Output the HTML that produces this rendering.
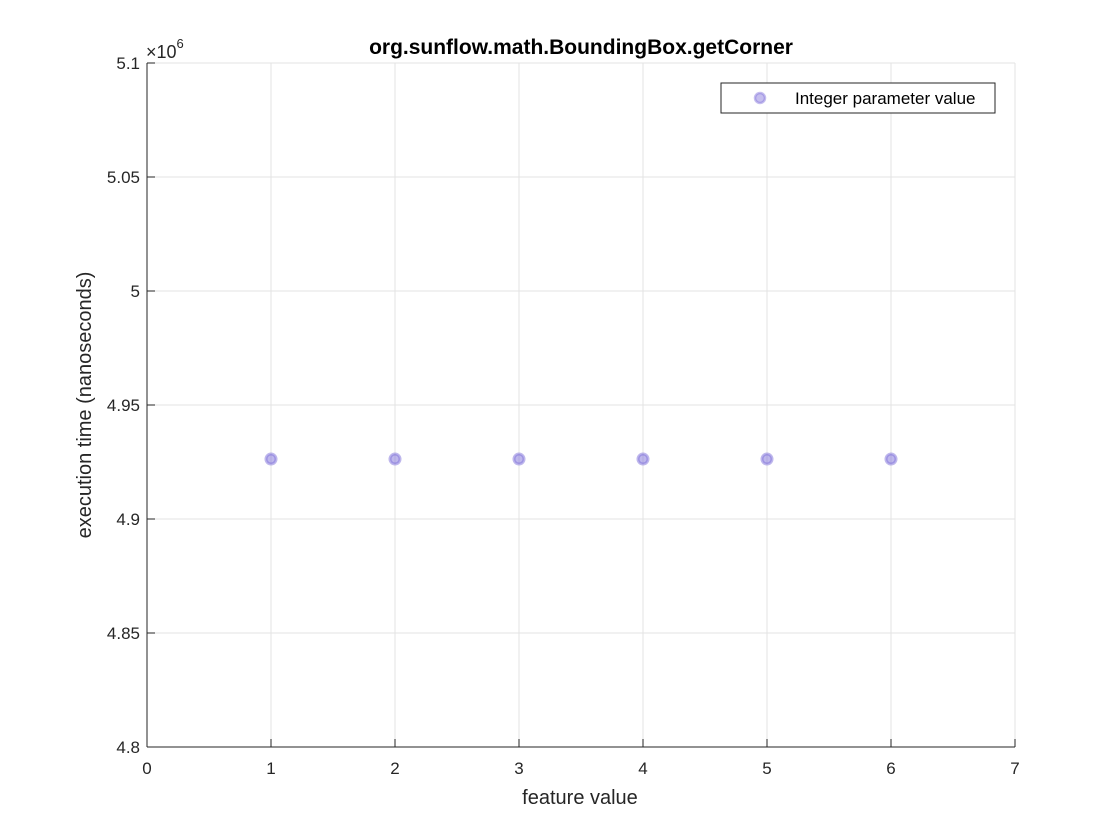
<!DOCTYPE html>
<html><head><meta charset="utf-8"><style>
body{margin:0;background:#fff;}
svg{display:block;font-family:"Liberation Sans",Arial,sans-serif;}
</style></head><body>
<svg id="chart" width="1120" height="840">
<rect x="0" y="0" width="1120" height="840" fill="#fff"/>
<rect x="147" y="63" width="868" height="684" fill="#fff"/>
<g id="grid"></g><g id="axes"></g><g id="points"></g>
<text x="581" y="54" text-anchor="middle" font-size="21" font-weight="bold" fill="#000">org.sunflow.math.BoundingBox.getCorner</text>
<text x="580" y="804" text-anchor="middle" font-size="20" fill="#262626">feature value</text>
<text transform="translate(91,405) rotate(-90)" text-anchor="middle" font-size="20" fill="#262626">execution time (nanoseconds)</text>
<text x="146" y="58" font-size="18" fill="#262626">×10<tspan dy="-10" font-size="13">6</tspan></text>
<g>
<rect x="721" y="83" width="274" height="30" fill="#fff" stroke="#262626" stroke-width="1"/>
<circle cx="760" cy="98" r="5" fill="#7e6fd9" fill-opacity="0.45" stroke="#7e6fd9" stroke-opacity="0.45" stroke-width="2.5"/>
<text x="795" y="104" font-size="17" fill="#000">Integer parameter value</text>
</g>
</svg>
<script>
const xTicks=[0,1,2,3,4,5,6,7];
const yTicks=[4.8,4.85,4.9,4.95,5,5.05,5.1];
const yTickLabels=["4.8","4.85","4.9","4.95","5","5.05","5.1"];
const featureValues=[1,2,3,4,5,6];
const execTimes=[4.9263,4.9263,4.9263,4.9263,4.9263,4.9263];
const X0=147,X1=1015,Y0=747,Y1=63;
const xs=v=>X0+(v-0)/(7-0)*(X1-X0);
const ys=v=>Y0-(v-4.8)/(5.1-4.8)*(Y0-Y1);
const NS="http://www.w3.org/2000/svg";
function mk(t,a,p){const e=document.createElementNS(NS,t);for(const k in a)e.setAttribute(k,a[k]);p.appendChild(e);return e;}
const grid=document.getElementById('grid'),axes=document.getElementById('axes'),pts=document.getElementById('points');
xTicks.forEach(v=>{
 const g=mk('line',{x1:xs(v),x2:xs(v),y1:Y1,y2:Y0,stroke:'#e3e3e3','stroke-width':1},grid);
 
 
 const t=mk('line',{x1:xs(v),x2:xs(v),y1:Y0,y2:Y0-8,stroke:'#262626'},axes);
 
 
 const l=mk('text',{x:xs(v),y:Y0+27,'text-anchor':'middle','font-size':17,fill:'#262626'},axes);
 l.textContent=v;
 
 
});
yTicks.forEach((v,i)=>{
 const g=mk('line',{x1:X0,x2:X1,y1:ys(v),y2:ys(v),stroke:'#e3e3e3','stroke-width':1},grid);
 
 
 const t=mk('line',{x1:X0,x2:X0+8,y1:ys(v),y2:ys(v),stroke:'#262626'},axes);
 
 
 const l=mk('text',{x:X0-7,y:ys(v)+6,'text-anchor':'end','font-size':17,fill:'#262626'},axes);
 l.textContent=yTickLabels[i];
 
 
});
const xa=mk('line',{x1:X0,x2:X1,y1:Y0,y2:Y0,stroke:'#262626'},axes);


const ya=mk('line',{x1:X0,x2:X0,y1:Y0,y2:Y1,stroke:'#262626'},axes);


featureValues.forEach((v,i)=>{
 const c=mk('circle',{cx:xs(v),cy:ys(execTimes[i]),r:5,fill:'#7e6fd9','fill-opacity':0.5,stroke:'#7e6fd9','stroke-opacity':0.5,'stroke-width':3},pts);
 
 
});
</script>
</body></html>
